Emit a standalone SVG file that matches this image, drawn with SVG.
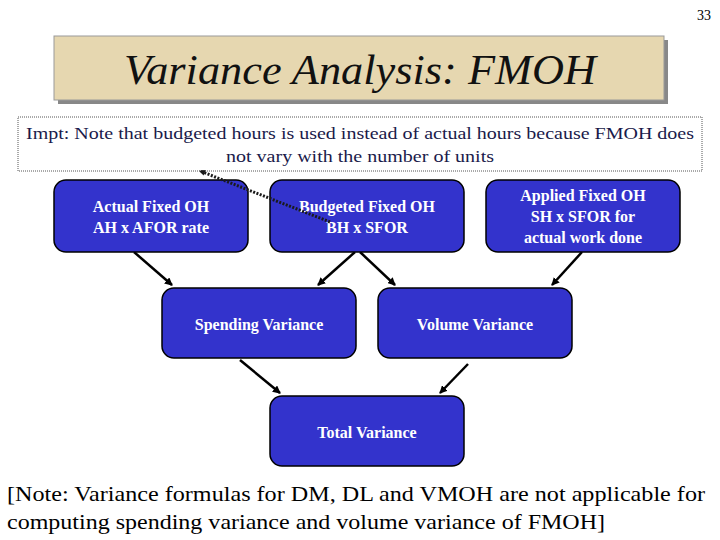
<svg xmlns="http://www.w3.org/2000/svg" width="720" height="540" viewBox="0 0 720 540">
<defs>
<style>
text{font-family:"Liberation Serif","Times New Roman",Tinos,"DejaVu Serif",serif}
.box{fill:#3333cc;stroke:#000;stroke-width:1.5}
.bt{font-weight:bold;font-size:16px;fill:#fff;text-anchor:middle}
.ln{stroke:#000;stroke-width:2.5;fill:none}
</style>
<marker id="ah" markerWidth="8" markerHeight="8" refX="7" refY="4" orient="auto" markerUnits="userSpaceOnUse"><path d="M0,0L8,4L0,8z" fill="#000"/></marker>
<marker id="dh" markerWidth="6" markerHeight="6" refX="5" refY="3" orient="auto" markerUnits="userSpaceOnUse"><path d="M0,0L6,3L0,6z" fill="#1a1a1a"/></marker>
</defs>
<rect width="720" height="540" fill="#fff"/>
<text x="711" y="20" font-size="14" text-anchor="end">33</text>
<g id="title">
<rect x="58" y="40" width="610" height="64" fill="#888"/>
<rect x="54" y="36" width="610" height="64" fill="#e6d7b0" stroke="#999"/>
<text x="124" y="84" font-style="italic" font-size="42" fill="#111" textLength="472" lengthAdjust="spacingAndGlyphs">Variance Analysis: FMOH</text>
</g>
<g id="note">
<rect x="18" y="117" width="684" height="54" fill="#fff" stroke="#555" stroke-dasharray="1,1"/>
<text font-size="17" fill="#1a1a4a"><tspan x="26" y="139" textLength="668" lengthAdjust="spacingAndGlyphs">Impt: Note that budgeted hours is used instead of actual hours because FMOH does</tspan><tspan x="226" y="162" textLength="268" lengthAdjust="spacingAndGlyphs">not vary with the number of units</tspan></text>
</g>
<g id="connectors">
<line class="ln" x1="134" y1="252" x2="172" y2="285" marker-end="url(#ah)"/>
<line class="ln" x1="355" y1="252" x2="318" y2="285" marker-end="url(#ah)"/>
<line class="ln" x1="360" y1="252" x2="395" y2="285" marker-end="url(#ah)"/>
<line class="ln" x1="582" y1="252" x2="552" y2="285" marker-end="url(#ah)"/>
<line class="ln" x1="240" y1="360" x2="280" y2="393" marker-end="url(#ah)"/>
<line class="ln" x1="468" y1="364" x2="440" y2="393" marker-end="url(#ah)"/>
</g>
<g id="n1"><rect class="box" x="54" y="180" width="194" height="72" rx="12"/><text class="bt"><tspan x="151" y="212">Actual Fixed OH</tspan><tspan x="151" y="233">AH x AFOR rate</tspan></text></g>
<g id="n2"><rect class="box" x="270" y="180" width="194" height="72" rx="12"/><text class="bt"><tspan x="367" y="212">Budgeted Fixed OH</tspan><tspan x="367" y="233">BH x SFOR</tspan></text></g>
<g id="n3"><rect class="box" x="486" y="180" width="194" height="72" rx="12"/><text class="bt"><tspan x="583" y="201">Applied Fixed OH</tspan><tspan x="583" y="222">SH x SFOR for</tspan><tspan x="583" y="243">actual work done</tspan></text></g>
<g id="n4"><rect class="box" x="162" y="288" width="194" height="70" rx="12"/><text class="bt" x="259" y="330">Spending Variance</text></g>
<g id="n5"><rect class="box" x="378" y="288" width="194" height="70" rx="12"/><text class="bt" x="475" y="330">Volume Variance</text></g>
<g id="n6"><rect class="box" x="270" y="396" width="194" height="70" rx="12"/><text class="bt" x="367" y="438">Total Variance</text></g>
<g id="pointer"><line x1="330" y1="222" x2="200" y2="171" stroke="#1a1a1a" stroke-width="3" stroke-dasharray="2,1.5" marker-end="url(#dh)"/></g>
<text font-size="22" fill="#000"><tspan x="7" y="501" textLength="698" lengthAdjust="spacingAndGlyphs">[Note: Variance formulas for DM, DL and VMOH are not applicable for</tspan><tspan x="7" y="529" textLength="598" lengthAdjust="spacingAndGlyphs">computing spending variance and volume variance of FMOH]</tspan></text>
</svg>
